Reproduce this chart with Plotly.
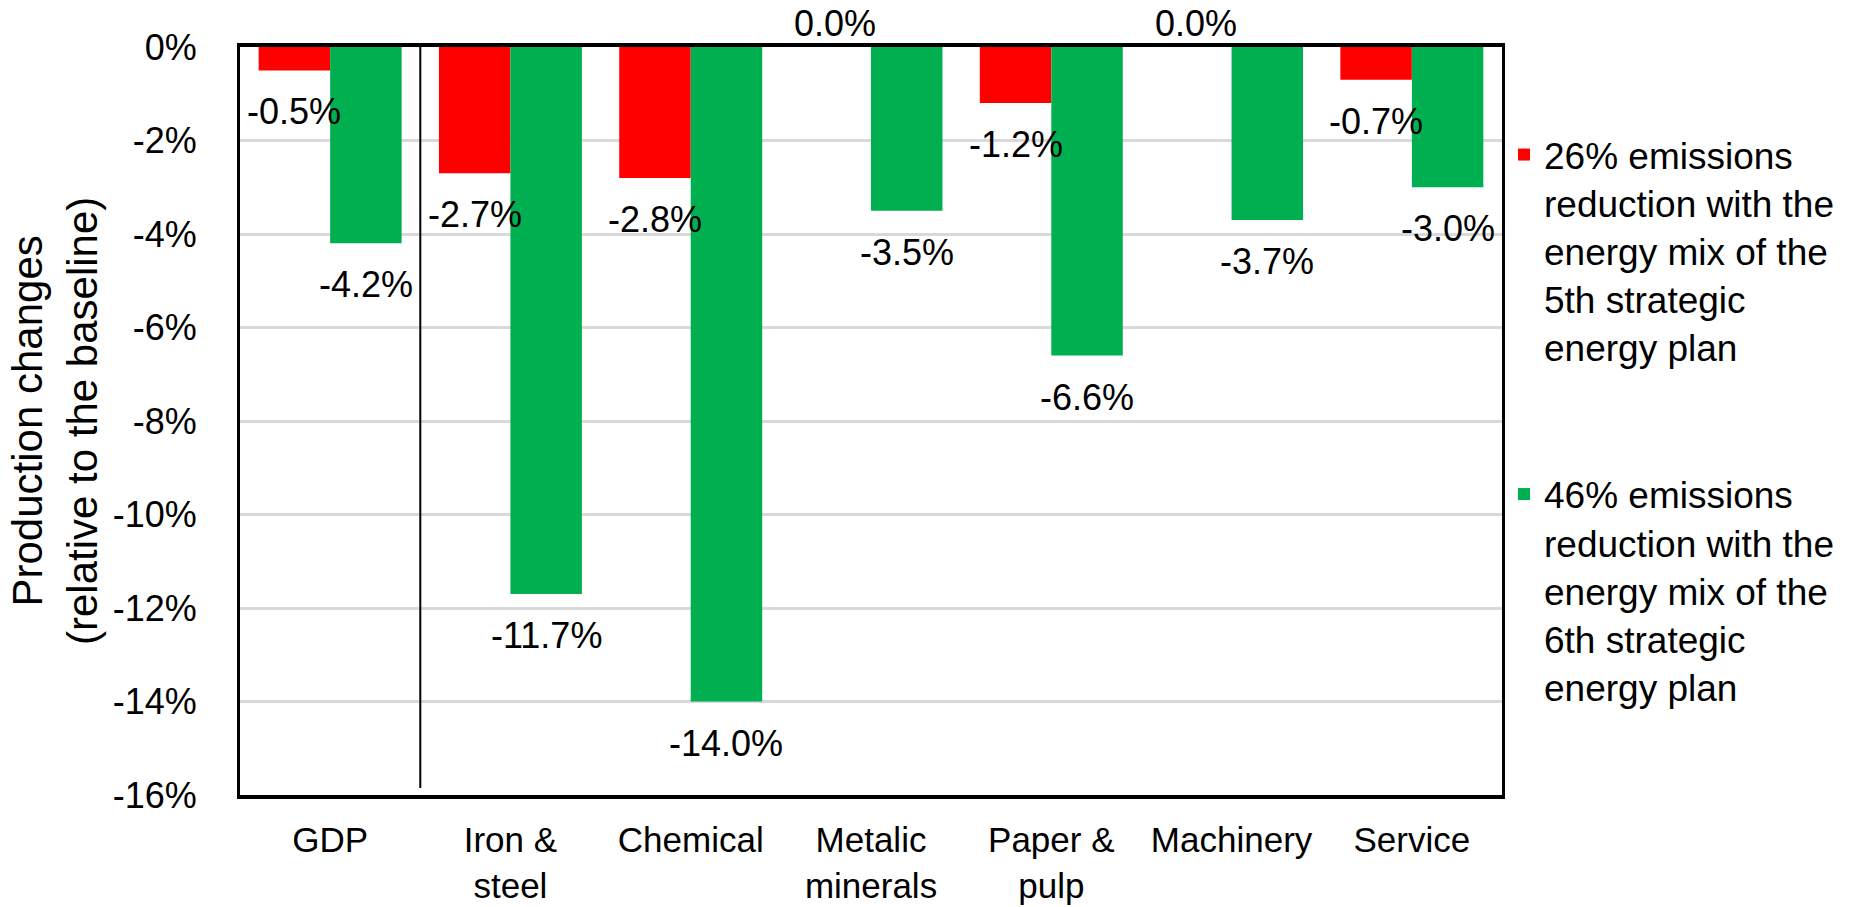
import plotly.graph_objects as go

categories = ["GDP", "Iron &<br>steel", "Chemical", "Metalic<br>minerals", "Paper &<br>pulp", "Machinery", "Service"]
series_names = [
    "26% emissions<br>reduction with the<br>energy mix of the<br>5th strategic<br>energy plan",
    "46% emissions<br>reduction with the<br>energy mix of the<br>6th strategic<br>energy plan",
]
red_values = [-0.5, -2.7, -2.8, 0.0, -1.2, 0.0, -0.7]
green_values = [-4.2, -11.7, -14.0, -3.5, -6.6, -3.7, -3.0]
y_ticks = [0, -2, -4, -6, -8, -10, -12, -14, -16]
y_tick_labels = ["0%", "-2%", "-4%", "-6%", "-8%", "-10%", "-12%", "-14%", "-16%"]

FONT = "Liberation Sans, Arial, sans-serif"
colors = ["#FF0000", "#00B050"]

fig = go.Figure()
for name, vals, col, grp in zip(series_names, [red_values, green_values], colors, ["a", "b"]):
    fig.add_trace(go.Bar(x=categories, y=vals, name=name, marker=dict(color=col, line=dict(width=0)),
                         legendgroup=grp))

W, H = 1868, 907
ml, mr, mt, mb = 240, 366, 47, 112
cat_px = (W - ml - mr) / len(categories)
bargap = 0.207
bar_w = cat_px * (1 - bargap) / 2
offsets = [-bar_w / 2, bar_w / 2]

annotations = []
for vals, off in zip([red_values, green_values], offsets):
    for c, v in zip(categories, vals):
        txt = f"{v:.1f}%"
        if v < 0:
            annotations.append(dict(x=c, y=v, xref="x", yref="y", text=txt, showarrow=False,
                                    xshift=off, yshift=-19, yanchor="top", xanchor="center",
                                    font=dict(family=FONT, size=36, color="black")))
        else:
            annotations.append(dict(x=c, y=v, xref="x", yref="y", text=txt, showarrow=False,
                                    xshift=off, yshift=1, yanchor="bottom", xanchor="center",
                                    font=dict(family=FONT, size=36, color="black")))

annotations.append(dict(text="Production changes<br>(relative to the baseline)", textangle=-90,
                        xref="paper", yref="paper", x=-0.1466, y=0.5, xanchor="center", yanchor="middle",
                        showarrow=False, font=dict(family=FONT, size=42, color="black")))

fig.add_shape(type="line", xref="x", yref="y", x0=0.5, x1=0.5, y0=0, y1=-15.85,
              line=dict(color="black", width=2))

fig.update_layout(
    width=W, height=H,
    margin=dict(l=ml, r=mr, t=mt, b=mb, autoexpand=False),
    paper_bgcolor="white", plot_bgcolor="white",
    barmode="group", bargap=bargap, bargroupgap=0,
    font=dict(family=FONT, size=36, color="black"),
    annotations=annotations,
    legend=dict(xref="container", yref="container", x=1504 / W, y=1 - 124 / H,
                xanchor="left", yanchor="top", valign="top", traceorder="grouped",
                tracegroupgap=96, maxheight=850, font=dict(family=FONT, size=37, color="black"),
                bgcolor="rgba(0,0,0,0)", borderwidth=0),
    showlegend=True,
)
fig.update_xaxes(showline=True, mirror=True, linecolor="black", linewidth=4, ticks="",
                 ticklabelstandoff=11, automargin=False,
                 tickfont=dict(family=FONT, size=35, color="black"), showgrid=False)
fig.update_yaxes(range=[-16, 0], tickvals=y_ticks, ticktext=y_tick_labels, showline=True, mirror=True,
                 linecolor="black", linewidth=3, ticks="", showgrid=True, gridcolor="#d9d9d9", gridwidth=2.5,
                 zeroline=False, ticklabelstandoff=33, automargin=False,
                 tickfont=dict(family=FONT, size=36, color="black"))

fig.write_html("out.html")
